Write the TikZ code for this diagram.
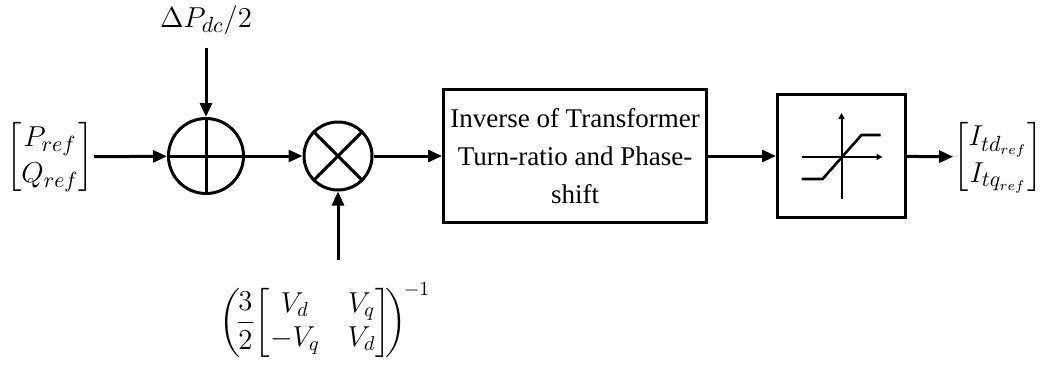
\documentclass[tikz,border=0pt]{standalone}
\usepackage{amsmath}
\usepackage{fontspec}
\setmainfont{Liberation Serif}
\usetikzlibrary{arrows.meta, positioning, calc}

\begin{document}
\begin{tikzpicture}[
    x=0.5pt, y=-0.5pt,
    junction/.style={circle, draw, line width=1.5pt, inner sep=0pt, minimum size=#1},
    block/.style={rectangle, draw, line width=1.5pt, align=center, font=\fontsize{13.5}{19}\selectfont},
    signal/.style={inner sep=0pt, font=\fontsize{15}{18}\selectfont},
    arrow/.style={-{Triangle[length=7pt, width=6pt]}, line width=1.5pt}
]
\useasboundingbox (0,0) rectangle (1052,370);

% summing and product junctions
\node[junction=37.5pt] (sum) at (206,156) {};
\node[junction=34pt] (mult) at (338,156) {};
\draw[line width=1.5pt] (sum.north) -- (sum.south) (sum.west) -- (sum.east);
\draw[line width=1.5pt] (mult.north west) -- (mult.south east) (mult.north east) -- (mult.south west);

% blocks
\node[block, minimum width=131.5pt, minimum height=66.5pt] (inv) at (575,156) {Inverse of Transformer\\Turn-ratio and Phase-\\shift};
\node[block, minimum width=64pt, minimum height=61.5pt] (sat) at (841.5,156) {};
\begin{scope}[shift={(sat.center)}, line width=1pt]
\draw[-{Triangle[length=3pt, width=3pt]}] (0,43) -- (0,-43);
\draw[-{Triangle[length=3pt, width=3pt]}] (-40,1) -- (41,1);
\draw[line width=1.3pt] (-40,23) -- (-19,23) -- (20,-21) -- (39,-21);
\end{scope}

% signals
\node[signal] (pq) at (50,157) {$\begin{bmatrix}P_{ref}\\Q_{ref}\end{bmatrix}$};
\node[signal] (dp) at (206,20) {$\Delta P_{dc}/2$};
\node[signal, font=\fontsize{14}{17}\selectfont] (gain) at (325,320) {$\left(\!\dfrac{3}{2}\!\begin{bmatrix}V_d & \;V_q\\-V_q & \;V_d\end{bmatrix}\!\right)^{\!-1}$};
\node[signal] (iout) at (998,157) {$\begin{bmatrix}I_{td_{ref}}\\I_{tq_{ref}}\end{bmatrix}$};
\coordinate (dpin) at (206,48);
\coordinate (gainin) at (338,260);

\draw[arrow] (pq) -- (sum);
\draw[arrow] (dpin) -- (sum);
\draw[arrow] (sum) -- (mult);
\draw[arrow] (gainin) -- (mult);
\draw[arrow] (mult) -- (inv);
\draw[arrow] (inv) -- (sat);
\draw[arrow] (sat) -- (iout);

\end{tikzpicture}
\end{document}
